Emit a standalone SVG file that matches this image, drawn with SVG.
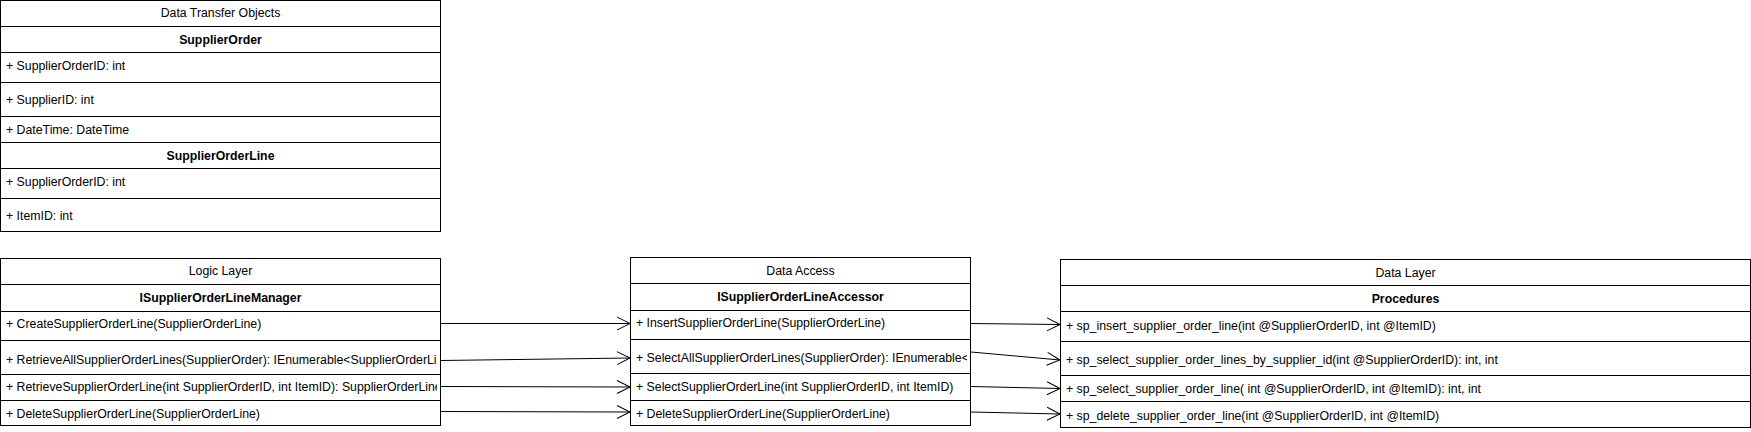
<svg xmlns="http://www.w3.org/2000/svg" width="1751" height="432" viewBox="0 0 1751 432">
<style>
  .box { fill: #ffffff; stroke: #000000; stroke-width: 1; }
  .sep { stroke: #000000; stroke-width: 1; fill: none; }
  text { font-family: "Liberation Sans", Arial, Helvetica, sans-serif; font-size: 12.3px; fill: #000000; }
  .title { text-anchor: middle; }
  .hdr { text-anchor: middle; font-weight: bold; }
  .conn { stroke: #000000; stroke-width: 1; fill: none; marker-end: url(#open); }
</style>
<defs>
  <marker id="open" markerUnits="userSpaceOnUse" markerWidth="16" markerHeight="16" refX="13" refY="6.5" orient="auto" overflow="visible">
    <path d="M0,0 L13,6.5 L0,13" fill="none" stroke="#000000" stroke-width="1"/>
  </marker>
  <clipPath id="clipLogic"><rect x="1" y="258" width="436" height="168"/></clipPath>
  <clipPath id="clipDA"><rect x="631" y="257" width="336" height="169"/></clipPath>
  <clipPath id="clipDL"><rect x="1061" y="259" width="686" height="169"/></clipPath>
</defs>
<rect width="1751" height="432" fill="#ffffff"/>

<g id="dto">
  <rect class="box" x="0.5" y="0.5" width="440" height="231"/>
  <path class="sep" d="M0.5,26.5H440.5 M0.5,52.5H440.5 M0.5,82.5H440.5 M0.5,116.5H440.5 M0.5,142.5H440.5 M0.5,168.5H440.5 M0.5,198.5H440.5"/>
  <text class="title" x="220.5" y="17">Data Transfer Objects</text>
  <text class="hdr" x="220.5" y="44">SupplierOrder</text>
  <text x="6" y="70">+ SupplierOrderID: int</text>
  <text x="6" y="103.5">+ SupplierID: int</text>
  <text x="6" y="133.5">+ DateTime: DateTime</text>
  <text class="hdr" x="220.5" y="160">SupplierOrderLine</text>
  <text x="6" y="186">+ SupplierOrderID: int</text>
  <text x="6" y="220">+ ItemID: int</text>
</g>

<g id="logic">
  <rect class="box" x="0.5" y="258.5" width="440" height="167"/>
  <path class="sep" d="M0.5,284.5H440.5 M0.5,311.5H440.5 M0.5,340.5H440.5 M0.5,374.5H440.5 M0.5,400.5H440.5"/>
  <text class="title" x="220.5" y="275">Logic Layer</text>
  <text class="hdr" x="220.5" y="302">ISupplierOrderLineManager</text>
  <g clip-path="url(#clipLogic)">
    <text x="6" y="328">+ CreateSupplierOrderLine(SupplierOrderLine)</text>
    <text x="6" y="364">+ RetrieveAllSupplierOrderLines(SupplierOrder): IEnumerable&lt;SupplierOrderLine&gt;</text>
    <text x="6" y="391">+ RetrieveSupplierOrderLine(int SupplierOrderID, int ItemID): SupplierOrderLine</text>
    <text x="6" y="417.5">+ DeleteSupplierOrderLine(SupplierOrderLine)</text>
  </g>
</g>

<g id="dataaccess">
  <rect class="box" x="630.5" y="257.5" width="340" height="168"/>
  <path class="sep" d="M630.5,283.5H970.5 M630.5,310.5H970.5 M630.5,339.5H970.5 M630.5,373.5H970.5 M630.5,400.5H970.5"/>
  <text class="title" x="800.5" y="274.5">Data Access</text>
  <text class="hdr" x="800.5" y="301">ISupplierOrderLineAccessor</text>
  <g clip-path="url(#clipDA)">
    <text x="636" y="327">+ InsertSupplierOrderLine(SupplierOrderLine)</text>
    <text x="636" y="362">+ SelectAllSupplierOrderLines(SupplierOrder): IEnumerable&lt;SupplierOrderLine&gt;</text>
    <text x="636" y="391">+ SelectSupplierOrderLine(int SupplierOrderID, int ItemID)</text>
    <text x="636" y="417.5">+ DeleteSupplierOrderLine(SupplierOrderLine)</text>
  </g>
</g>

<g id="datalayer">
  <rect class="box" x="1060.5" y="259.5" width="690" height="168"/>
  <path class="sep" d="M1060.5,285.5H1750.5 M1060.5,311.5H1750.5 M1060.5,341.5H1750.5 M1060.5,375.5H1750.5 M1060.5,401.5H1750.5"/>
  <text class="title" x="1405.5" y="277">Data Layer</text>
  <text class="hdr" x="1405.5" y="303">Procedures</text>
  <g clip-path="url(#clipDL)">
    <text x="1066" y="330">+ sp_insert_supplier_order_line(int @SupplierOrderID, int @ItemID)</text>
    <text x="1066" y="363.5">+ sp_select_supplier_order_lines_by_supplier_id(int @SupplierOrderID): int, int</text>
    <text x="1066" y="392.5">+ sp_select_supplier_order_line( int @SupplierOrderID, int @ItemID): int, int</text>
    <text x="1066" y="420">+ sp_delete_supplier_order_line(int @SupplierOrderID, int @ItemID)</text>
  </g>
</g>

<g id="connectors">
  <line class="conn" x1="441" y1="323.5" x2="630" y2="323.5"/>
  <line class="conn" x1="441" y1="360.5" x2="630" y2="358"/>
  <line class="conn" x1="441" y1="386.5" x2="630" y2="387"/>
  <line class="conn" x1="441" y1="411.5" x2="630" y2="412"/>
  <line class="conn" x1="971" y1="323.5" x2="1060" y2="324.5"/>
  <line class="conn" x1="971" y1="352" x2="1060" y2="360"/>
  <line class="conn" x1="971" y1="386.5" x2="1060" y2="388.5"/>
  <line class="conn" x1="971" y1="412" x2="1060" y2="414"/>
</g>
</svg>
